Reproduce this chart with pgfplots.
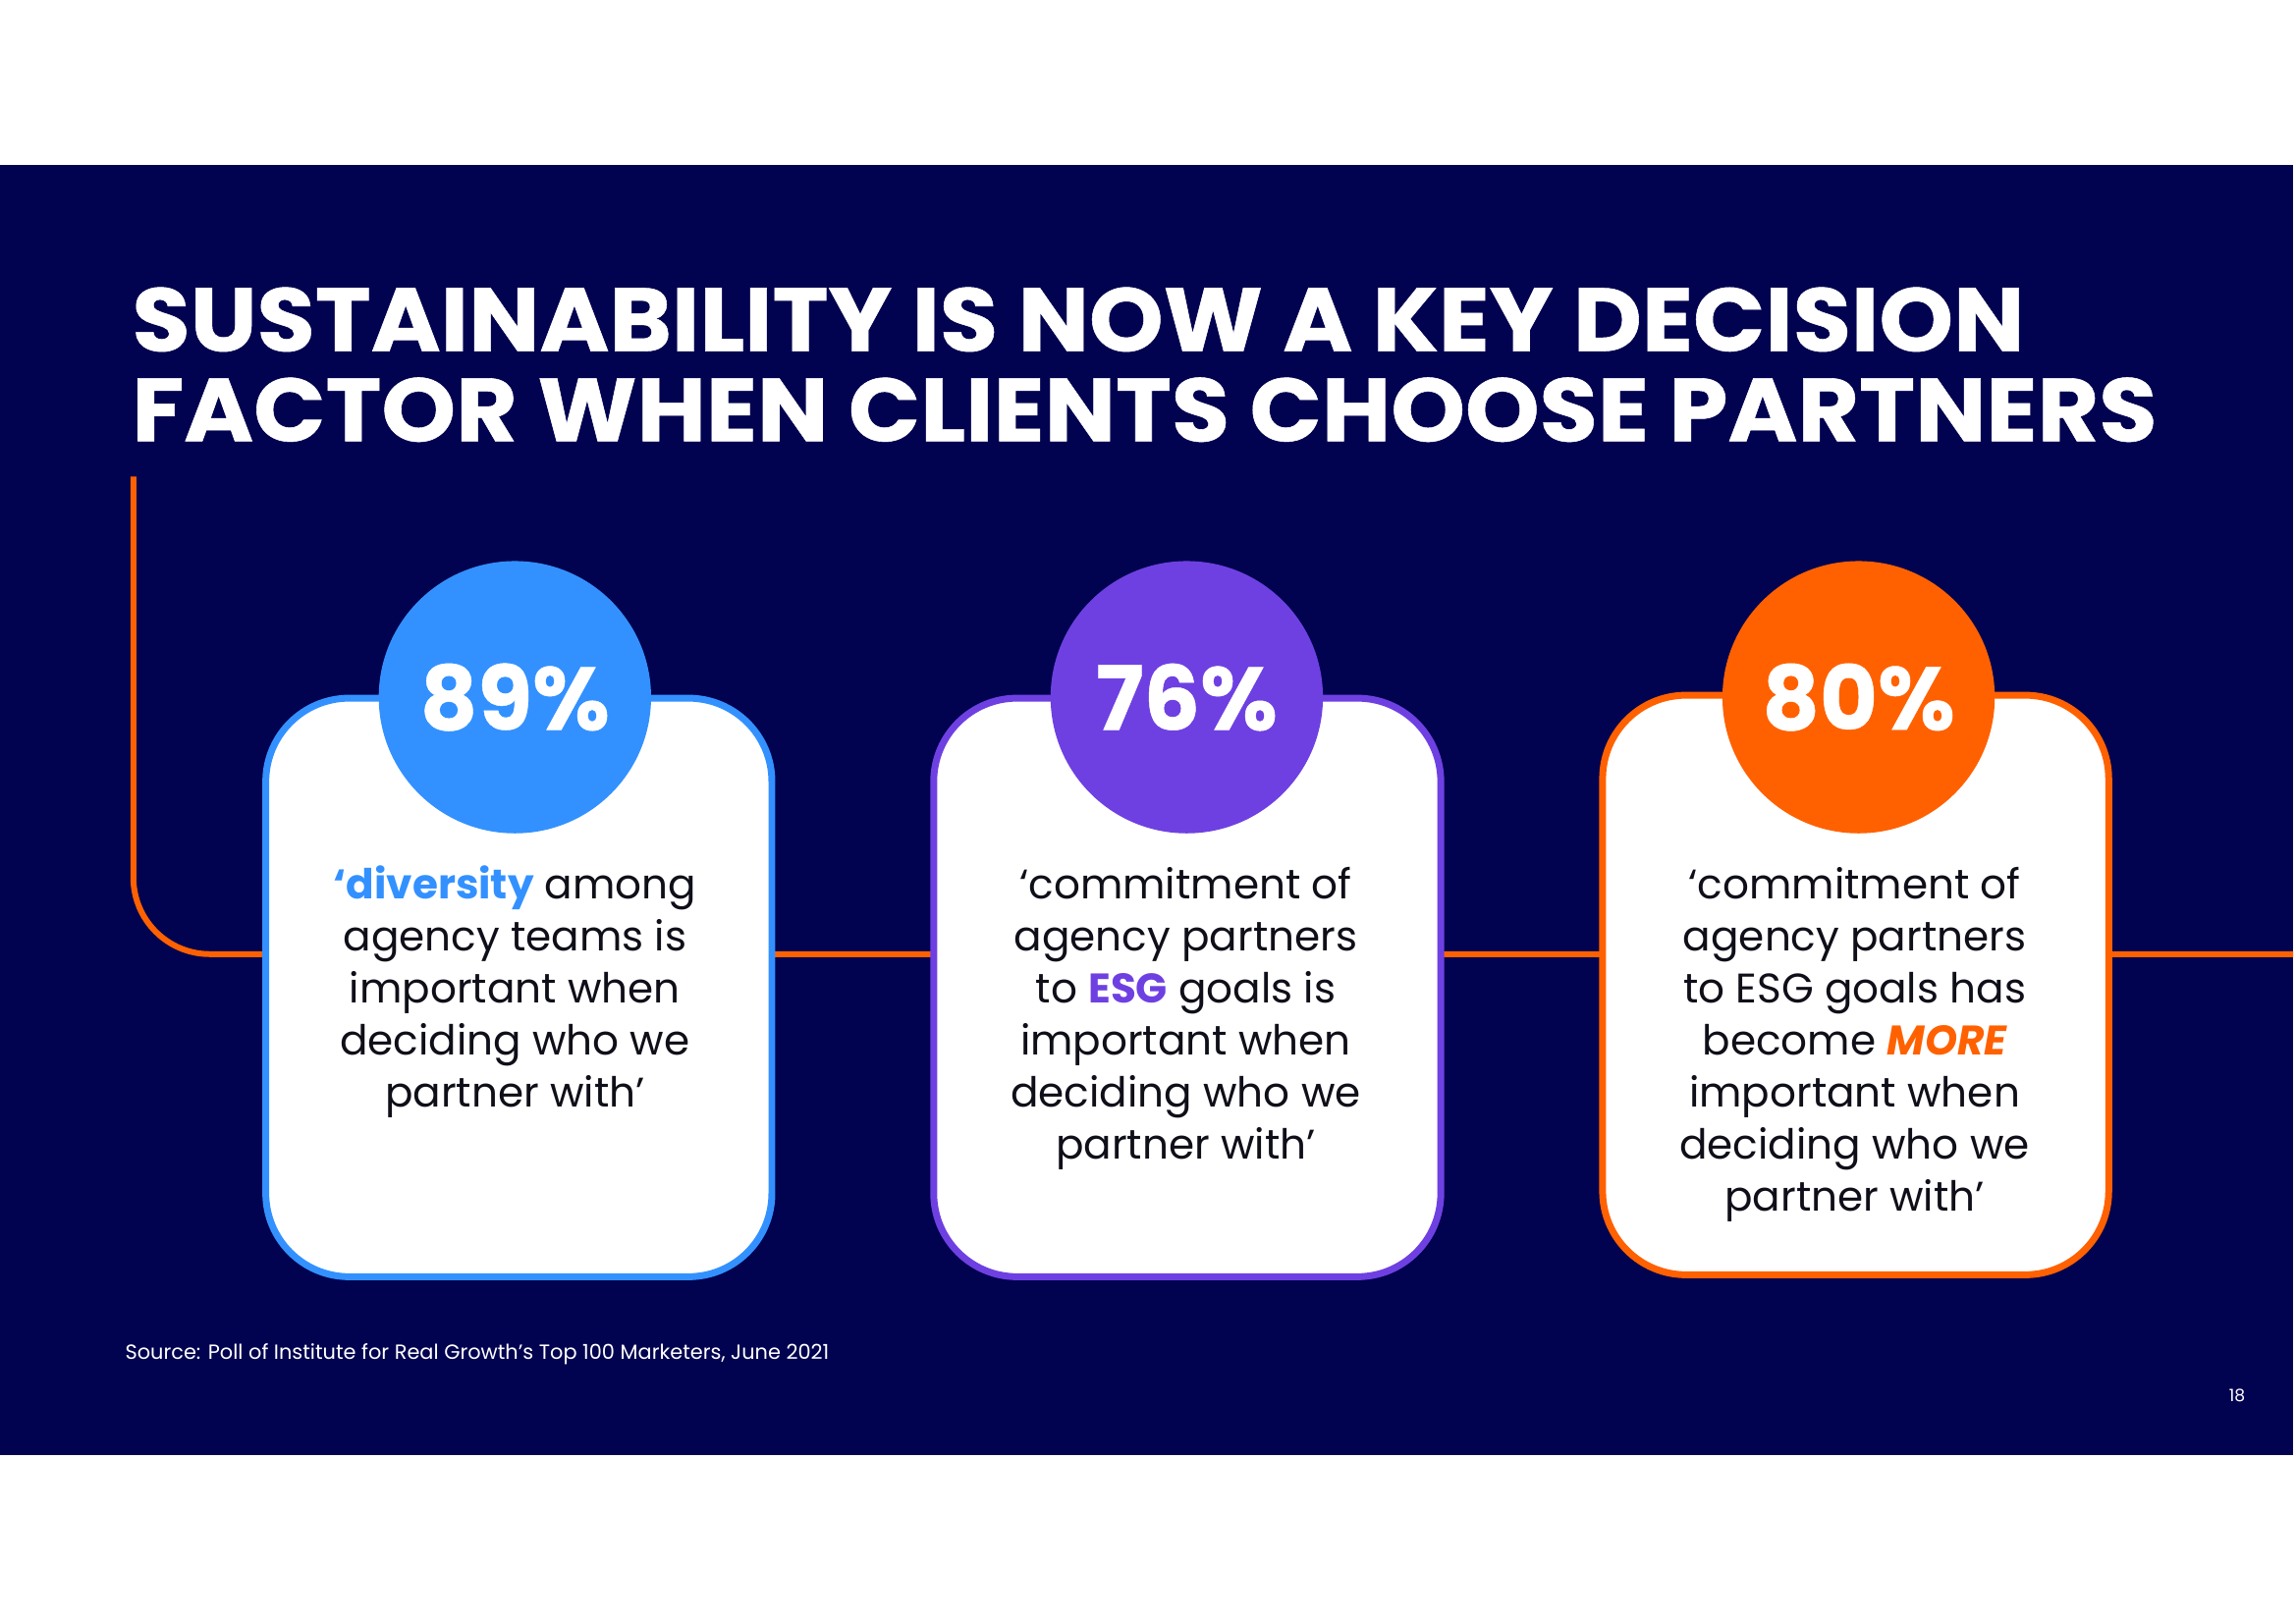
\documentclass[border=0pt]{standalone}
\usepackage{pgfplots}
\pgfplotsset{compat=1.18}
\usepackage{fontspec}
\setmainfont{Poppins}
\newfontfamily\titlefont[FakeStretch=1.055, FakeBold=0.6]{Poppins}
\newfontfamily\numfont[FakeBold=0.5]{Poppins}
\definecolor{navy}{RGB}{2,3,80}
\definecolor{cblue}{RGB}{51,145,255}
\definecolor{cpurple}{RGB}{110,64,226}
\definecolor{corange}{RGB}{255,97,0}
\definecolor{ink}{RGB}{15,15,25}
\begin{document}
\begin{tikzpicture}
\begin{axis}[
  width=23.38cm, height=16.53cm, scale only axis,
  xmin=0, xmax=2338, ymin=0, ymax=1653, y dir=reverse,
  hide axis, clip=false,
  point meta=explicit symbolic,
  nodes near coords={\pgfplotspointmeta\%},
  nodes near coords style={anchor=center, inner sep=0pt, text=white,
    font=\numfont\bfseries\fontsize{25.8}{30}\selectfont},
]
% background
\fill[white] (axis cs:0,0) rectangle (axis cs:2338,1653);
\fill[navy] (axis cs:0,168) rectangle (axis cs:2338,1484);
% orange connector line
\draw[corange, line width=0.6mm, rounded corners=7.8mm]
  (axis cs:136,486) -- (axis cs:136,973) -- (axis cs:2338,973);
% title
\node[anchor=base west, inner sep=0pt, text=white, font=\titlefont\bfseries\fontsize{26}{26}\selectfont]
  at (axis cs:134,358) {SUSTAINABILITY IS NOW A KEY DECISION};
\node[anchor=base west, inner sep=0pt, text=white, font=\titlefont\bfseries\fontsize{26}{26}\selectfont]
  at (axis cs:134,450) {FACTOR WHEN CLIENTS CHOOSE PARTNERS};
% boxes
\draw[cblue, line width=0.7mm, fill=white, rounded corners=8.5mm]
  (axis cs:271,712) rectangle (axis cs:787,1302);
\draw[cpurple, line width=0.7mm, fill=white, rounded corners=8.5mm]
  (axis cs:952,712) rectangle (axis cs:1469,1302);
\draw[corange, line width=0.7mm, fill=white, rounded corners=8.5mm]
  (axis cs:1634,709) rectangle (axis cs:2150,1300);
% value circles
\addplot[only marks, mark=*, mark size=39.3pt, color=cblue] coordinates {(525,711) [89]};
\addplot[only marks, mark=*, mark size=39.3pt, color=cpurple] coordinates {(1210,711) [76]};
\addplot[only marks, mark=*, mark size=39.3pt, color=corange] coordinates {(1895,711) [80]};
% body texts
\begin{scope}[every node/.style={anchor=base, inner sep=0pt, text=ink, font=\fontsize{12}{15}\selectfont}]
\node at (axis cs:525,917) {\textcolor{cblue}{\bfseries `diversity} among};
\node at (axis cs:525,970) {agency teams is};
\node at (axis cs:525,1023) {important when};
\node at (axis cs:525,1076) {deciding who we};
\node at (axis cs:525,1129) {partner with'};
\node at (axis cs:1209,917) {`commitment of};
\node at (axis cs:1209,970) {agency partners};
\node at (axis cs:1209,1023) {to \textcolor{cpurple}{\bfseries ESG} goals is};
\node at (axis cs:1209,1076) {important when};
\node at (axis cs:1209,1129) {deciding who we};
\node at (axis cs:1209,1182) {partner with'};
\node at (axis cs:1891,917) {`commitment of};
\node at (axis cs:1891,970) {agency partners};
\node at (axis cs:1891,1023) {to ESG goals has};
\node at (axis cs:1891,1076) {become \textcolor{corange}{\bfseries\itshape MORE}};
\node at (axis cs:1891,1129) {important when};
\node at (axis cs:1891,1182) {deciding who we};
\node at (axis cs:1891,1235) {partner with'};
\end{scope}
% footer
\node[anchor=base west, inner sep=0pt, text=white, font=\fontsize{5.95}{7}\selectfont]
  at (axis cs:127,1386) {Source: Poll of Institute for Real Growth's Top 100 Marketers, June 2021};
\node[anchor=base, inner sep=0pt, text=white, font=\fontsize{4.9}{6}\selectfont]
  at (axis cs:2281,1429) {18};
\end{axis}
\end{tikzpicture}
\end{document}
